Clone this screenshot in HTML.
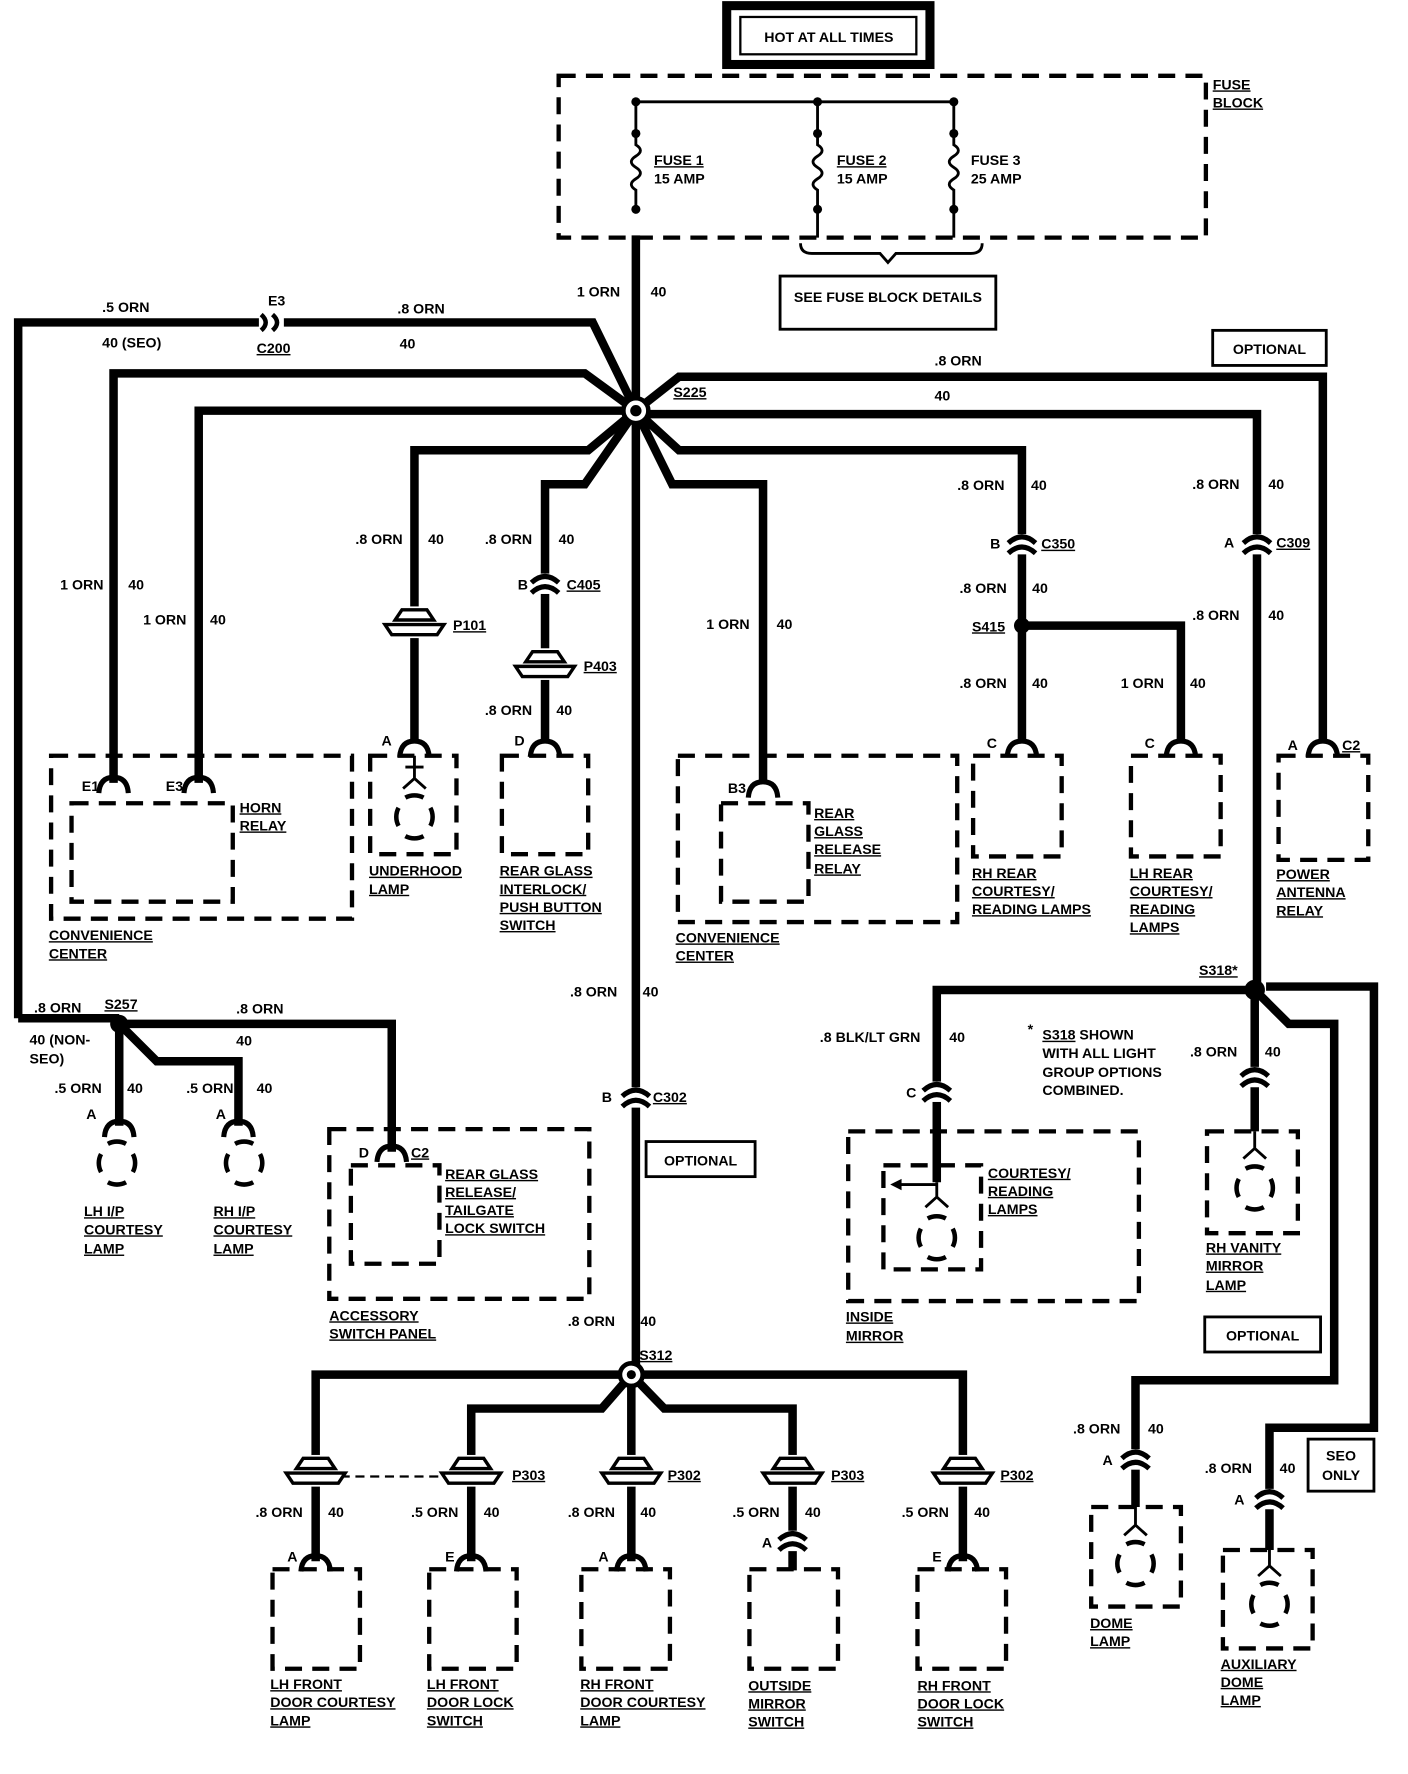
<!DOCTYPE html>
<html><head><meta charset="utf-8"><style>
html,body{margin:0;padding:0;background:#fff;}
svg{display:block;}
text{font-family:"Liberation Sans",sans-serif;font-weight:bold;font-size:12.5px;fill:#000;}
.u{text-decoration:underline;}
.w{stroke:#000;stroke-width:7.5;fill:none;stroke-linejoin:miter;}
.t{stroke:#000;stroke-width:2.5;fill:none;}
.d{stroke:#000;stroke-width:3.8;fill:none;stroke-dasharray:15 9;}
</style></head><body>
<svg width="1408" height="1774" viewBox="0 0 1240 1568" preserveAspectRatio="none" xmlns="http://www.w3.org/2000/svg">
<defs>
<g id="sock"><path d="M-13,9 Q-12,-5 0,-5 Q12,-5 13,9" stroke="#000" stroke-width="4.5" fill="none"/></g>
<g id="inl"><rect x="-12" y="-9" width="24" height="18" fill="#fff"/><path d="M-12,-1 Q0,-12 12,-1 M-12,8 Q0,-3 12,8" stroke="#000" stroke-width="4.5" fill="none"/></g>
<g id="grom"><rect x="-4" y="-14" width="8" height="28" fill="#fff"/><path d="M-17,-2 L-11,-11 L11,-11 L17,-2 Z" stroke="#000" stroke-width="3" fill="#fff"/><path d="M-26,2 L26,2 L20,11 L-20,11 Z" stroke="#000" stroke-width="3" fill="#fff"/></g>
<g id="bulb"><path d="M-14,-8 A17,17 0 0 0 -14,8 M14,-8 A17,17 0 0 1 14,8 M-8,-17 A17,17 0 0 1 8,-17 M-8,17 A17,17 0 0 0 8,17" stroke="#000" stroke-width="4" fill="none"/></g>
</defs>

<rect x="640" y="5" width="179" height="52" fill="none" stroke="#000" stroke-width="8"/>
<rect x="652" y="15" width="155" height="33" fill="none" stroke="#000" stroke-width="2"/>
<text x="730" y="37" text-anchor="middle">HOT AT ALL TIMES</text>

<rect x="492" y="67" width="570" height="143" class="d"/>
<text x="1068" y="79" class="u">FUSE</text><text x="1068" y="95" class="u">BLOCK</text>
<path class="t" d="M560,118 V90 H840 V118 M720,90 V118"/>
<path class="t" d="M560,118 V128 q8,5 0,10 q-8,5 0,10 q8,5 0,10 q-8,5 0,10 V185"/>
<path class="t" d="M720,118 V128 q8,5 0,10 q-8,5 0,10 q8,5 0,10 q-8,5 0,10 V185 V210"/>
<path class="t" d="M840,118 V128 q8,5 0,10 q-8,5 0,10 q8,5 0,10 q-8,5 0,10 V185 V210"/>
<g fill="#000"><circle cx="560" cy="90" r="4"/><circle cx="720" cy="90" r="4"/><circle cx="840" cy="90" r="4"/><circle cx="560" cy="118" r="4"/><circle cx="720" cy="118" r="4"/><circle cx="840" cy="118" r="4"/><circle cx="560" cy="185" r="4"/><circle cx="720" cy="185" r="4"/><circle cx="840" cy="185" r="4"/></g>
<text x="576" y="146" class="u">FUSE 1</text><text x="576" y="162">15 AMP</text>
<text x="737" y="146" class="u">FUSE 2</text><text x="737" y="162">15 AMP</text>
<text x="855" y="146">FUSE 3</text><text x="855" y="162">25 AMP</text>
<path class="t" d="M705,215 Q705,224 715,224 H775 L782,232 L789,224 H855 Q865,224 865,215"/>
<rect x="687" y="244" width="190" height="47" fill="none" stroke="#000" stroke-width="2.5"/>
<text x="782" y="267" text-anchor="middle">SEE FUSE BLOCK DETAILS</text>

<path class="w" d="M560,208 V1215"/>
<path class="w" d="M16,900 V285 H522 L560,363"/>
<path class="w" d="M16,900 H105"/>
<path class="w" d="M100,692 V330 H515 L560,363"/>
<path class="w" d="M175,692 V363 H560"/>
<path class="w" d="M365,656 V398 H518 L560,363"/>
<path class="w" d="M480,656 V428 H515 L560,363"/>
<path class="w" d="M1165,656 V333 H598 L560,363"/>
<path class="w" d="M1107,875 V366 H560"/>
<path class="w" d="M900,656 V398 H598 L560,363"/>
<path class="w" d="M672,692 V428 H592 L560,363"/>
<path class="w" d="M900,553 H1040 V656"/>
<path class="w" d="M345,1018 V905 H105 V995"/>
<path class="w" d="M105,905 L138,938 H210 V995"/>
<path class="w" d="M1105,875 H825 V1045"/>
<path class="w" d="M1105,875 V1000"/>
<path class="w" d="M1105,875 L1135,905 H1175 V1220 H1000 V1332"/>
<path class="w" d="M1115,872 H1210 V1262 H1118 V1370"/>
<path class="w" d="M556,1215 H278 V1380"/>
<path class="w" d="M556,1215 L530,1245 H415 V1380"/>
<path class="w" d="M556,1215 V1380"/>
<path class="w" d="M556,1215 L585,1245 H698 V1388"/>
<path class="w" d="M556,1215 H848 V1380"/>
<path d="M300,1305 H390" stroke="#000" stroke-width="2" stroke-dasharray="8 5"/>

<circle cx="560" cy="363" r="11" fill="#fff" stroke="#000" stroke-width="4"/><circle cx="560" cy="363" r="5" fill="#000"/>
<circle cx="900" cy="553" r="7" fill="#000"/>
<circle cx="105" cy="905" r="8" fill="#000"/>
<circle cx="1105" cy="875" r="9" fill="#000"/>
<circle cx="556" cy="1215" r="10" fill="#fff" stroke="#000" stroke-width="4"/><circle cx="556" cy="1215" r="4" fill="#000"/>

<rect x="228" y="278" width="22" height="14" fill="#fff"/>
<path d="M230,278 Q238,285 230,292 M240,278 Q248,285 240,292" stroke="#000" stroke-width="4" fill="none"/>

<use href="#inl" x="480" y="516"/>
<use href="#inl" x="900" y="481"/>
<use href="#inl" x="1107" y="481"/>
<use href="#inl" x="560" y="970"/>
<use href="#inl" x="825" y="965"/>
<use href="#inl" x="1105" y="952"/>
<use href="#inl" x="1000" y="1290"/>
<use href="#inl" x="1118" y="1325"/>
<use href="#inl" x="698" y="1362"/>

<use href="#grom" x="365" y="550"/>
<use href="#grom" x="480" y="587"/>
<use href="#grom" x="278" y="1300"/>
<use href="#grom" x="415" y="1300"/>
<use href="#grom" x="556" y="1300"/>
<use href="#grom" x="698" y="1300"/>
<use href="#grom" x="848" y="1300"/>

<use href="#sock" x="100" y="692"/><use href="#sock" x="175" y="692"/>
<use href="#sock" x="365" y="660"/><use href="#sock" x="480" y="660"/>
<use href="#sock" x="672" y="696"/><use href="#sock" x="900" y="660"/>
<use href="#sock" x="1040" y="660"/><use href="#sock" x="1165" y="660"/>
<use href="#sock" x="105" y="996"/><use href="#sock" x="210" y="996"/>
<use href="#sock" x="345" y="1018"/>
<use href="#sock" x="278" y="1380"/><use href="#sock" x="415" y="1380"/><use href="#sock" x="556" y="1380"/><use href="#sock" x="848" y="1380"/>

<rect x="45" y="668" width="265" height="144" class="d"/>
<rect x="63" y="710" width="142" height="87" class="d"/>
<rect x="326" y="668" width="76" height="87" class="d"/>
<rect x="442" y="668" width="76" height="87" class="d"/>
<rect x="597" y="668" width="246" height="147" class="d"/>
<rect x="635" y="710" width="77" height="87" class="d"/>
<rect x="857" y="668" width="78" height="89" class="d"/>
<rect x="996" y="668" width="79" height="89" class="d"/>
<rect x="1126" y="668" width="79" height="92" class="d"/>
<rect x="290" y="998" width="229" height="150" class="d"/>
<rect x="309" y="1030" width="78" height="87" class="d"/>
<rect x="747" y="1000" width="256" height="150" class="d"/>
<rect x="778" y="1030" width="86" height="92" class="d"/>
<rect x="1063" y="1000" width="80" height="90" class="d"/>
<rect x="961" y="1332" width="79" height="88" class="d"/>
<rect x="1077" y="1370" width="79" height="87" class="d"/>
<rect x="240" y="1387" width="77" height="88" class="d"/>
<rect x="378" y="1387" width="77" height="88" class="d"/>
<rect x="512" y="1387" width="78" height="88" class="d"/>
<rect x="660" y="1387" width="78" height="88" class="d"/>
<rect x="808" y="1387" width="78" height="88" class="d"/>

<path class="t" d="M365,668 V688 M355,697 L365,688 L375,697 M357,678 H373"/><use href="#bulb" x="365" y="722"/>
<use href="#bulb" x="103" y="1028"/><use href="#bulb" x="215" y="1028"/>
<path class="t" d="M825,1045 V1058 M815,1067 L825,1058 L835,1067 M825,1047 H790"/><path d="M784,1047 L794,1042 L794,1052 Z" fill="#000"/><use href="#bulb" x="825" y="1094"/>
<path class="t" d="M1105,1000 V1015 M1095,1024 L1105,1015 L1115,1024"/><use href="#bulb" x="1105" y="1050"/>
<path class="t" d="M1000,1332 V1348 M990,1357 L1000,1348 L1010,1357"/><use href="#bulb" x="1000" y="1382"/>
<path class="t" d="M1118,1370 V1384 M1108,1393 L1118,1384 L1128,1393"/><use href="#bulb" x="1118" y="1418"/>

<rect x="1068" y="292" width="100" height="31" fill="none" stroke="#000" stroke-width="2.5"/><text x="1118" y="313" text-anchor="middle">OPTIONAL</text>
<rect x="569" y="1009" width="96" height="31" fill="none" stroke="#000" stroke-width="2.5"/><text x="617" y="1030" text-anchor="middle">OPTIONAL</text>
<rect x="1061" y="1164" width="102" height="31" fill="none" stroke="#000" stroke-width="2.5"/><text x="1112" y="1185" text-anchor="middle">OPTIONAL</text>
<rect x="1152" y="1272" width="58" height="46" fill="none" stroke="#000" stroke-width="2.5"/><text x="1181" y="1291" text-anchor="middle">SEO</text><text x="1181" y="1308" text-anchor="middle">ONLY</text>

<text x="508" y="262">1 ORN</text><text x="573" y="262">40</text>
<text x="90" y="276">.5 ORN</text><text x="90" y="307">40 (SEO)</text>
<text x="236" y="270">E3</text><text x="226" y="312" class="u">C200</text>
<text x="350" y="277">.8 ORN</text><text x="352" y="308">40</text>
<text x="823" y="323">.8 ORN</text><text x="823" y="354">40</text>
<text x="593" y="351" class="u">S225</text>
<text x="53" y="521">1 ORN</text><text x="113" y="521">40</text>
<text x="126" y="552">1 ORN</text><text x="185" y="552">40</text>
<text x="313" y="481">.8 ORN</text><text x="377" y="481">40</text>
<text x="427" y="481">.8 ORN</text><text x="492" y="481">40</text>
<text x="456" y="521">B</text><text x="499" y="521" class="u">C405</text>
<text x="399" y="557" class="u">P101</text><text x="514" y="593" class="u">P403</text>
<text x="427" y="632">.8 ORN</text><text x="490" y="632">40</text>
<text x="336" y="659">A</text><text x="453" y="659">D</text>
<text x="622" y="556">1 ORN</text><text x="684" y="556">40</text>
<text x="843" y="433">.8 ORN</text><text x="908" y="433">40</text>
<text x="872" y="485">B</text><text x="917" y="485" class="u">C350</text>
<text x="845" y="524">.8 ORN</text><text x="909" y="524">40</text>
<text x="856" y="558" class="u">S415</text>
<text x="845" y="608">.8 ORN</text><text x="909" y="608">40</text>
<text x="987" y="608">1 ORN</text><text x="1048" y="608">40</text>
<text x="1050" y="432">.8 ORN</text><text x="1117" y="432">40</text>
<text x="1078" y="484">A</text><text x="1124" y="484" class="u">C309</text>
<text x="1050" y="548">.8 ORN</text><text x="1117" y="548">40</text>
<text x="869" y="661">C</text><text x="1008" y="661">C</text><text x="1134" y="663">A</text><text x="1182" y="663" class="u">C2</text>
<text x="72" y="699">E1</text><text x="146" y="699">E3</text><text x="641" y="701">B3</text>

<text x="211" y="718" class="u">HORN</text><text x="211" y="734" class="u">RELAY</text>
<text x="43" y="831" class="u">CONVENIENCE</text><text x="43" y="847" class="u">CENTER</text>
<text x="325" y="774" class="u">UNDERHOOD</text><text x="325" y="790" class="u">LAMP</text>
<text x="440" y="774" class="u">REAR GLASS</text><text x="440" y="790" class="u">INTERLOCK/</text><text x="440" y="806" class="u">PUSH BUTTON</text><text x="440" y="822" class="u">SWITCH</text>
<text x="717" y="723" class="u">REAR</text><text x="717" y="739" class="u">GLASS</text><text x="717" y="755" class="u">RELEASE</text><text x="717" y="772" class="u">RELAY</text>
<text x="595" y="833" class="u">CONVENIENCE</text><text x="595" y="849" class="u">CENTER</text>
<text x="856" y="776" class="u">RH REAR</text><text x="856" y="792" class="u">COURTESY/</text><text x="856" y="808" class="u">READING LAMPS</text>
<text x="995" y="776" class="u">LH REAR</text><text x="995" y="792" class="u">COURTESY/</text><text x="995" y="808" class="u">READING</text><text x="995" y="824" class="u">LAMPS</text>
<text x="1124" y="777" class="u">POWER</text><text x="1124" y="793" class="u">ANTENNA</text><text x="1124" y="809" class="u">RELAY</text>

<text x="502" y="881">.8 ORN</text><text x="566" y="881">40</text>
<text x="30" y="895">.8 ORN</text><text x="92" y="892" class="u">S257</text><text x="208" y="896">.8 ORN</text>
<text x="26" y="923">40 (NON-</text><text x="26" y="940">SEO)</text><text x="208" y="924">40</text>
<text x="48" y="966">.5 ORN</text><text x="112" y="966">40</text><text x="164" y="966">.5 ORN</text><text x="226" y="966">40</text>
<text x="76" y="989">A</text><text x="190" y="989">A</text>
<text x="74" y="1075" class="u">LH I/P</text><text x="74" y="1091" class="u">COURTESY</text><text x="74" y="1108" class="u">LAMP</text>
<text x="188" y="1075" class="u">RH I/P</text><text x="188" y="1091" class="u">COURTESY</text><text x="188" y="1108" class="u">LAMP</text>
<text x="316" y="1023">D</text><text x="362" y="1023" class="u">C2</text>
<text x="392" y="1042" class="u">REAR GLASS</text><text x="392" y="1058" class="u">RELEASE/</text><text x="392" y="1074" class="u">TAILGATE</text><text x="392" y="1090" class="u">LOCK SWITCH</text>
<text x="290" y="1167" class="u">ACCESSORY</text><text x="290" y="1183" class="u">SWITCH PANEL</text>
<text x="530" y="974">B</text><text x="575" y="974" class="u">C302</text>
<text x="500" y="1172">.8 ORN</text><text x="564" y="1172">40</text>
<text x="563" y="1202" class="u">S312</text>

<text x="1056" y="862" class="u">S318*</text>
<text x="722" y="921">.8 BLK/LT GRN</text><text x="836" y="921">40</text>
<text x="905" y="914">*</text>
<text x="918" y="919"><tspan class="u">S318</tspan> SHOWN</text><text x="918" y="935">WITH ALL LIGHT</text><text x="918" y="952">GROUP OPTIONS</text><text x="918" y="968">COMBINED.</text>
<text x="1048" y="934">.8 ORN</text><text x="1114" y="934">40</text>
<text x="798" y="970">C</text>
<text x="870" y="1041" class="u">COURTESY/</text><text x="870" y="1057" class="u">READING</text><text x="870" y="1073" class="u">LAMPS</text>
<text x="745" y="1168" class="u">INSIDE</text><text x="745" y="1185" class="u">MIRROR</text>
<text x="1062" y="1107" class="u">RH VANITY</text><text x="1062" y="1123" class="u">MIRROR</text><text x="1062" y="1140" class="u">LAMP</text>
<text x="945" y="1267">.8 ORN</text><text x="1011" y="1267">40</text><text x="971" y="1295">A</text>
<text x="1061" y="1302">.8 ORN</text><text x="1127" y="1302">40</text><text x="1087" y="1330">A</text>
<text x="960" y="1439" class="u">DOME</text><text x="960" y="1455" class="u">LAMP</text>
<text x="1075" y="1475" class="u">AUXILIARY</text><text x="1075" y="1491" class="u">DOME</text><text x="1075" y="1507" class="u">LAMP</text>

<text x="451" y="1308" class="u">P303</text><text x="588" y="1308" class="u">P302</text><text x="732" y="1308" class="u">P303</text><text x="881" y="1308" class="u">P302</text>
<text x="225" y="1341">.8 ORN</text><text x="289" y="1341">40</text>
<text x="362" y="1341">.5 ORN</text><text x="426" y="1341">40</text>
<text x="500" y="1341">.8 ORN</text><text x="564" y="1341">40</text>
<text x="645" y="1341">.5 ORN</text><text x="709" y="1341">40</text>
<text x="794" y="1341">.5 ORN</text><text x="858" y="1341">40</text>
<text x="253" y="1380">A</text><text x="392" y="1380">E</text><text x="527" y="1380">A</text><text x="671" y="1368">A</text><text x="821" y="1380">E</text>
<text x="238" y="1493" class="u">LH FRONT</text><text x="238" y="1509" class="u">DOOR COURTESY</text><text x="238" y="1525" class="u">LAMP</text>
<text x="376" y="1493" class="u">LH FRONT</text><text x="376" y="1509" class="u">DOOR LOCK</text><text x="376" y="1525" class="u">SWITCH</text>
<text x="511" y="1493" class="u">RH FRONT</text><text x="511" y="1509" class="u">DOOR COURTESY</text><text x="511" y="1525" class="u">LAMP</text>
<text x="659" y="1494" class="u">OUTSIDE</text><text x="659" y="1510" class="u">MIRROR</text><text x="659" y="1526" class="u">SWITCH</text>
<text x="808" y="1494" class="u">RH FRONT</text><text x="808" y="1510" class="u">DOOR LOCK</text><text x="808" y="1526" class="u">SWITCH</text>
</svg>
</body></html>
